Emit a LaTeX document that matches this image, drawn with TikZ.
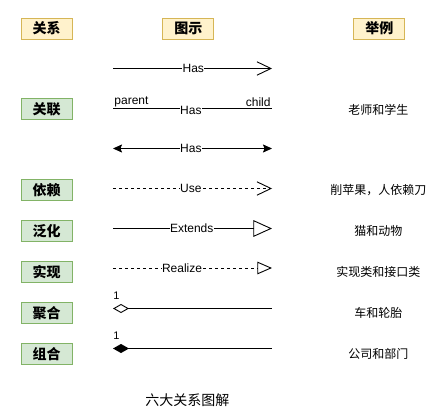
\documentclass[tikz,border=0pt]{standalone}
\usepackage{fontspec}
\setmainfont{Liberation Sans}
\newfontfamily\cjk{Noto Sans CJK SC}
\usetikzlibrary{arrows.meta,positioning}

\definecolor{headfill}{HTML}{FFF2CC}
\definecolor{headline}{HTML}{D6B656}
\definecolor{kindfill}{HTML}{D5E8D4}
\definecolor{kindline}{HTML}{82B366}

\begin{document}
\begin{tikzpicture}[
		x=1pt, y=-1pt,
		node distance=40pt,
		font=\fontsize{12}{14}\selectfont,
		head/.style={
			rectangle,
			draw=headline,
			fill=headfill,
			line width=0.9pt,
			minimum width=51pt,
			minimum height=21pt,
			inner sep=0pt,
			font=\cjk\bfseries\fontsize{14}{16}\selectfont
		},
		kind/.style={
			head,
			draw=kindline,
			fill=kindfill
		},
		example/.style={
			font=\cjk\fontsize{12}{14}\selectfont
		},
		label/.style={
			fill=white,
			inner sep=0.5pt
		},
		end/.style={
			inner sep=1pt
		},
		mult/.style={
			inner sep=0pt,
			font=\fontsize{11}{12}\selectfont
		},
		link/.style={
			line width=0.9pt
		},
		dashlink/.style={
			link,
			dash pattern=on 3pt off 3pt
		}
		]
		\useasboundingbox (0,0) rectangle (435,419);
		
		% We start by placing the header blocks
		\node [head] (relhead) at (46.5,28.5) {关系};
		\node [head, right=90pt of relhead] (pichead) {图示};
		\node [head, right=139pt of pichead] (exhead) {举例};
		
		% the kinds of relation
		\node [kind, below=59pt of relhead] (assoc) {关联};
		\node [kind, below=59pt of assoc] (depend) {依赖};
		\node [kind, below=19pt of depend] (general) {泛化};
		\node [kind, below=19pt of general] (realize) {实现};
		\node [kind, below=19pt of realize] (aggreg) {聚合};
		\node [kind, below=19pt of aggreg] (compos) {组合};
		
		% ends of the lines
		\foreach \n/\y in {has/68.5, named/108.5, both/148.5, use/188.5, ext/228.5, real/268, agg/308.5, comp/348.5}
		{
			\coordinate (\n-s) at (113,\y);
			\coordinate (\n-e) at (272,\y);
		}
		
		\draw [link, -{Straight Barb[length=14pt,width=13.4pt]}] (has-s) -- node [label, pos=0.505] (haslbl) {Has} (has-e);
		\draw [link] (named-s) -- node [label, yshift=-2pt, pos=0.49] (namedlbl) {Has}
			node [end, pos=0, above right] (parent) {parent}
			node [end, pos=1, above left] (child) {child} (named-e);
		\draw [link, {Stealth[length=9pt,width=8pt,inset=1.5pt]}-{Stealth[length=9pt,width=8pt,inset=1.5pt]}] (both-s) -- node [label, pos=0.49] (bothlbl) {Has} (both-e);
		\draw [dashlink, -{Straight Barb[length=14pt,width=13.4pt]}] (use-s) -- node [label, pos=0.49] (uselbl) {Use} (use-e);
		\draw [link, -{Triangle[open,length=18.7pt,width=16.7pt]}] (ext-s) -- node [label, pos=0.495] (extlbl) {Extends} (ext-e);
		\draw [dashlink, -{Triangle[open,length=14.7pt,width=12.6pt]}] (real-s) -- node [label, pos=0.434] (reallbl) {Realize} (real-e);
		\draw [link, {Diamond[open,length=16pt,width=9pt]}-] (agg-s) -- (agg-e);
		\draw [link, {Diamond[length=16pt,width=9pt]}-] (comp-s) -- (comp-e);
		\node [mult] (aggone) at (116.5,296) {1};
		\node [mult] (compone) at (116.5,336) {1};
		
		% examples
		\node [example, xshift=-1pt] (assocex) at (exhead |- assoc) {老师和学生};
		\node [example, xshift=-1pt] (dependex) at (exhead |- depend) {削苹果，人依赖刀};
		\node [example, xshift=-1pt] (generalex) at (exhead |- general) {猫和动物};
		\node [example, xshift=-1pt] (realizeex) at (exhead |- realize) {实现类和接口类};
		\node [example, xshift=-1pt] (aggregex) at (exhead |- aggreg) {车和轮胎};
		\node [example, xshift=-1pt] (composex) at (exhead |- compos) {公司和部门};
		
		\node [example, font=\cjk\fontsize{14}{16}\selectfont] (caption) at (187.3,400) {六大关系图解};
		
\end{tikzpicture}
\end{document}
